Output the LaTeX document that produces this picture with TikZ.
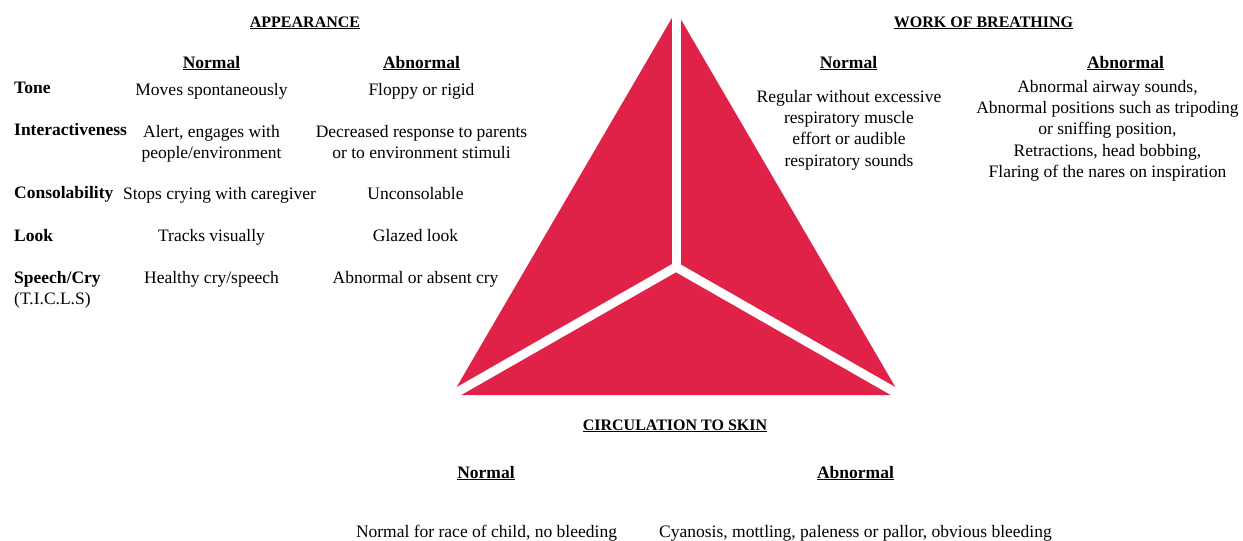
\documentclass[tikz,border=0pt]{standalone}
\usepackage{fontspec}
\setmainfont{Liberation Serif}
\usetikzlibrary{calc}
\definecolor{tri}{RGB}{225,34,72}
\tikzset{
  body/.style={inner sep=0pt, anchor=base, align=center, font=\fontsize{17.5}{21.3}\selectfont},
  bodytop/.style={body, anchor=north},
  rowlab/.style={inner sep=0pt, anchor=base west, align=left, font=\fontsize{17.5}{21.3}\selectfont\bfseries},
  colhead/.style={inner sep=0pt, anchor=base, font=\fontsize{17.5}{21}\selectfont\bfseries},
  title/.style={inner sep=0pt, anchor=base, font=\fontsize{16}{19}\selectfont\bfseries},
  gap/.style={white, line width=9pt}
}
\newcommand{\ul}[1]{\underline{#1}}
\begin{document}
\begin{tikzpicture}[x=1pt,y=-1pt]
\useasboundingbox (0,0) rectangle (1243,541);

% triangle split into three parts
\coordinate (apex) at (676,11);
\coordinate (lc) at (452,395);
\coordinate (rc) at (900,395);
\coordinate (ctr) at (676,267);
\fill[tri] (apex) -- (lc) -- (rc) -- cycle;
\draw[gap] (ctr) -- ($(ctr)!1.1!(apex)$);
\draw[gap] (ctr) -- ($(ctr)!1.1!(lc)$);
\draw[gap] (ctr) -- ($(ctr)!1.1!(rc)$);

% appearance (multi-line cells are placed by their top edge)
\node[title] (app) at (305,27) {\ul{APPEARANCE}};
\node[colhead] (an) at (211.5,68) {\ul{Normal}};
\node[colhead] (aa) at (421.5,68) {\ul{Abnormal}};

\node[rowlab] (tone) at (14,93) {Tone};
\node[body] (tonen) at (211.5,95) {Moves spontaneously};
\node[body] (tonea) at (421.5,95) {Floppy or rigid};

\node[rowlab] (inter) at (14,135) {Interactiveness};
\node[bodytop] (intern) at (211.5,125) {Alert, engages with\\people/environment};
\node[bodytop] (intera) at (421.5,125) {Decreased response to parents\\or to environment stimuli};

\node[rowlab] (cons) at (14,198) {Consolability};
\node[body] (consn) at (219.5,199) {Stops crying with caregiver};
\node[body] (consa) at (415.5,199) {Unconsolable};

\node[rowlab] (look) at (14,241) {Look};
\node[body] (lookn) at (211.5,241) {Tracks visually};
\node[body] (looka) at (415.5,241) {Glazed look};

\node[rowlab, anchor=north west] (speech) at (14,271) {Speech/Cry\\\mdseries(T.I.C.L.S)};
\node[body] (speechn) at (211.5,283) {Healthy cry/speech};
\node[body] (speecha) at (415.5,283) {Abnormal or absent cry};

% work of breathing
\node[title] (wob) at (983.5,27) {\ul{WORK OF BREATHING}};
\node[colhead] (wn) at (848.5,68) {\ul{Normal}};
\node[colhead] (wa) at (1125.5,68) {\ul{Abnormal}};
\node[bodytop] (wnt) at (849,90) {Regular without excessive\\respiratory muscle\\effort or audible\\respiratory sounds};
\node[bodytop] (wat) at (1107.5,80) {Abnormal airway sounds,\\Abnormal positions such as tripoding\\or sniffing position,\\Retractions, head bobbing,\\Flaring of the nares on inspiration};

% circulation to skin
\node[title] (circ) at (675,430) {\ul{CIRCULATION TO SKIN}};
\node[colhead] (cn) at (486,478) {\ul{Normal}};
\node[colhead] (ca) at (855.5,478) {\ul{Abnormal}};
\node[body] (cnt) at (486.5,537) {Normal for race of child, no bleeding};
\node[body] (cat) at (855.5,537) {Cyanosis, mottling, paleness or pallor, obvious bleeding};
\end{tikzpicture}
\end{document}
